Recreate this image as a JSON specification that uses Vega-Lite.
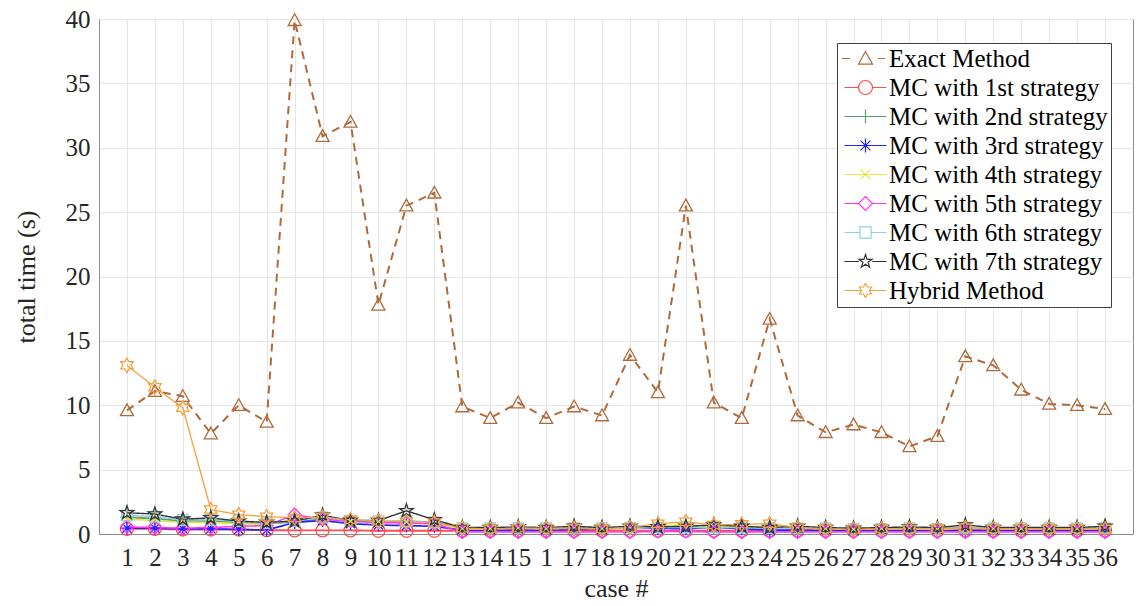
{
  "$schema": "https://vega.github.io/schema/vega-lite/v6.json",
  "width": 1034,
  "height": 515,
  "autosize": {"type": "none"},
  "padding": {"left": 99, "top": 19, "right": 9, "bottom": 72},
  "background": "white",
  "config": {
    "font": "Liberation Serif",
    "view": {"stroke": "#8c8c8c", "strokeWidth": 1},
    "axis": {
      "domainColor": "#8c8c8c",
      "gridColor": "#e6e6e6",
      "gridWidth": 1,
      "ticks": false,
      "labelFont": "Liberation Serif",
      "labelFontSize": 25,
      "labelColor": "#262626",
      "titleFont": "Liberation Serif",
      "titleFontSize": 26,
      "titleFontWeight": "normal",
      "titleColor": "#262626"
    }
  },
  "data": {"values": [
    {"s":"Exact Method","c":1,"t":9.6},{"s":"Exact Method","c":2,"t":11.1},{"s":"Exact Method","c":3,"t":10.7},{"s":"Exact Method","c":4,"t":7.8},{"s":"Exact Method","c":5,"t":10.0},{"s":"Exact Method","c":6,"t":8.7},{"s":"Exact Method","c":7,"t":39.9},{"s":"Exact Method","c":8,"t":30.9},{"s":"Exact Method","c":9,"t":32.0},{"s":"Exact Method","c":10,"t":17.8},{"s":"Exact Method","c":11,"t":25.5},{"s":"Exact Method","c":12,"t":26.5},{"s":"Exact Method","c":13,"t":9.9},{"s":"Exact Method","c":14,"t":9.0},{"s":"Exact Method","c":15,"t":10.2},{"s":"Exact Method","c":16,"t":9.0},{"s":"Exact Method","c":17,"t":9.9},{"s":"Exact Method","c":18,"t":9.2},{"s":"Exact Method","c":19,"t":13.9},{"s":"Exact Method","c":20,"t":11.0},{"s":"Exact Method","c":21,"t":25.5},{"s":"Exact Method","c":22,"t":10.2},{"s":"Exact Method","c":23,"t":9.0},{"s":"Exact Method","c":24,"t":16.7},{"s":"Exact Method","c":25,"t":9.2},{"s":"Exact Method","c":26,"t":7.9},{"s":"Exact Method","c":27,"t":8.5},{"s":"Exact Method","c":28,"t":7.9},{"s":"Exact Method","c":29,"t":6.8},{"s":"Exact Method","c":30,"t":7.6},{"s":"Exact Method","c":31,"t":13.8},{"s":"Exact Method","c":32,"t":13.1},{"s":"Exact Method","c":33,"t":11.2},{"s":"Exact Method","c":34,"t":10.1},{"s":"Exact Method","c":35,"t":10.0},{"s":"Exact Method","c":36,"t":9.7},

    {"s":"MC with 1st strategy","c":1,"t":0.4},{"s":"MC with 1st strategy","c":2,"t":0.4},{"s":"MC with 1st strategy","c":3,"t":0.35},{"s":"MC with 1st strategy","c":4,"t":0.35},{"s":"MC with 1st strategy","c":5,"t":0.35},{"s":"MC with 1st strategy","c":6,"t":0.3},{"s":"MC with 1st strategy","c":7,"t":0.28},{"s":"MC with 1st strategy","c":8,"t":0.28},{"s":"MC with 1st strategy","c":9,"t":0.28},{"s":"MC with 1st strategy","c":10,"t":0.25},{"s":"MC with 1st strategy","c":11,"t":0.25},{"s":"MC with 1st strategy","c":12,"t":0.25},{"s":"MC with 1st strategy","c":13,"t":0.25},{"s":"MC with 1st strategy","c":14,"t":0.25},{"s":"MC with 1st strategy","c":15,"t":0.25},{"s":"MC with 1st strategy","c":16,"t":0.25},{"s":"MC with 1st strategy","c":17,"t":0.25},{"s":"MC with 1st strategy","c":18,"t":0.25},{"s":"MC with 1st strategy","c":19,"t":0.25},{"s":"MC with 1st strategy","c":20,"t":0.25},{"s":"MC with 1st strategy","c":21,"t":0.25},{"s":"MC with 1st strategy","c":22,"t":0.25},{"s":"MC with 1st strategy","c":23,"t":0.25},{"s":"MC with 1st strategy","c":24,"t":0.25},{"s":"MC with 1st strategy","c":25,"t":0.25},{"s":"MC with 1st strategy","c":26,"t":0.25},{"s":"MC with 1st strategy","c":27,"t":0.25},{"s":"MC with 1st strategy","c":28,"t":0.25},{"s":"MC with 1st strategy","c":29,"t":0.25},{"s":"MC with 1st strategy","c":30,"t":0.25},{"s":"MC with 1st strategy","c":31,"t":0.25},{"s":"MC with 1st strategy","c":32,"t":0.25},{"s":"MC with 1st strategy","c":33,"t":0.25},{"s":"MC with 1st strategy","c":34,"t":0.25},{"s":"MC with 1st strategy","c":35,"t":0.25},{"s":"MC with 1st strategy","c":36,"t":0.25},

    {"s":"MC with 2nd strategy","c":1,"t":1.3},{"s":"MC with 2nd strategy","c":2,"t":1.2},{"s":"MC with 2nd strategy","c":3,"t":1.0},{"s":"MC with 2nd strategy","c":4,"t":1.0},{"s":"MC with 2nd strategy","c":5,"t":0.9},{"s":"MC with 2nd strategy","c":6,"t":0.8},{"s":"MC with 2nd strategy","c":7,"t":0.95},{"s":"MC with 2nd strategy","c":8,"t":1.2},{"s":"MC with 2nd strategy","c":9,"t":1.0},{"s":"MC with 2nd strategy","c":10,"t":0.95},{"s":"MC with 2nd strategy","c":11,"t":1.0},{"s":"MC with 2nd strategy","c":12,"t":0.9},{"s":"MC with 2nd strategy","c":13,"t":0.45},{"s":"MC with 2nd strategy","c":14,"t":0.45},{"s":"MC with 2nd strategy","c":15,"t":0.45},{"s":"MC with 2nd strategy","c":16,"t":0.45},{"s":"MC with 2nd strategy","c":17,"t":0.5},{"s":"MC with 2nd strategy","c":18,"t":0.45},{"s":"MC with 2nd strategy","c":19,"t":0.5},{"s":"MC with 2nd strategy","c":20,"t":0.5},{"s":"MC with 2nd strategy","c":21,"t":0.55},{"s":"MC with 2nd strategy","c":22,"t":0.5},{"s":"MC with 2nd strategy","c":23,"t":0.5},{"s":"MC with 2nd strategy","c":24,"t":0.45},{"s":"MC with 2nd strategy","c":25,"t":0.45},{"s":"MC with 2nd strategy","c":26,"t":0.4},{"s":"MC with 2nd strategy","c":27,"t":0.4},{"s":"MC with 2nd strategy","c":28,"t":0.4},{"s":"MC with 2nd strategy","c":29,"t":0.45},{"s":"MC with 2nd strategy","c":30,"t":0.4},{"s":"MC with 2nd strategy","c":31,"t":0.5},{"s":"MC with 2nd strategy","c":32,"t":0.4},{"s":"MC with 2nd strategy","c":33,"t":0.4},{"s":"MC with 2nd strategy","c":34,"t":0.4},{"s":"MC with 2nd strategy","c":35,"t":0.4},{"s":"MC with 2nd strategy","c":36,"t":0.45},

    {"s":"MC with 3rd strategy","c":1,"t":0.45},{"s":"MC with 3rd strategy","c":2,"t":0.45},{"s":"MC with 3rd strategy","c":3,"t":0.4},{"s":"MC with 3rd strategy","c":4,"t":0.4},{"s":"MC with 3rd strategy","c":5,"t":0.35},{"s":"MC with 3rd strategy","c":6,"t":0.3},{"s":"MC with 3rd strategy","c":7,"t":0.9},{"s":"MC with 3rd strategy","c":8,"t":1.05},{"s":"MC with 3rd strategy","c":9,"t":0.8},{"s":"MC with 3rd strategy","c":10,"t":0.7},{"s":"MC with 3rd strategy","c":11,"t":0.65},{"s":"MC with 3rd strategy","c":12,"t":0.6},{"s":"MC with 3rd strategy","c":13,"t":0.3},{"s":"MC with 3rd strategy","c":14,"t":0.3},{"s":"MC with 3rd strategy","c":15,"t":0.3},{"s":"MC with 3rd strategy","c":16,"t":0.3},{"s":"MC with 3rd strategy","c":17,"t":0.35},{"s":"MC with 3rd strategy","c":18,"t":0.35},{"s":"MC with 3rd strategy","c":19,"t":0.55},{"s":"MC with 3rd strategy","c":20,"t":0.45},{"s":"MC with 3rd strategy","c":21,"t":0.4},{"s":"MC with 3rd strategy","c":22,"t":0.55},{"s":"MC with 3rd strategy","c":23,"t":0.4},{"s":"MC with 3rd strategy","c":24,"t":0.3},{"s":"MC with 3rd strategy","c":25,"t":0.3},{"s":"MC with 3rd strategy","c":26,"t":0.3},{"s":"MC with 3rd strategy","c":27,"t":0.3},{"s":"MC with 3rd strategy","c":28,"t":0.3},{"s":"MC with 3rd strategy","c":29,"t":0.3},{"s":"MC with 3rd strategy","c":30,"t":0.3},{"s":"MC with 3rd strategy","c":31,"t":0.3},{"s":"MC with 3rd strategy","c":32,"t":0.3},{"s":"MC with 3rd strategy","c":33,"t":0.3},{"s":"MC with 3rd strategy","c":34,"t":0.3},{"s":"MC with 3rd strategy","c":35,"t":0.3},{"s":"MC with 3rd strategy","c":36,"t":0.3},

    {"s":"MC with 4th strategy","c":1,"t":1.15},{"s":"MC with 4th strategy","c":2,"t":1.05},{"s":"MC with 4th strategy","c":3,"t":0.9},{"s":"MC with 4th strategy","c":4,"t":0.9},{"s":"MC with 4th strategy","c":5,"t":0.8},{"s":"MC with 4th strategy","c":6,"t":0.75},{"s":"MC with 4th strategy","c":7,"t":1.1},{"s":"MC with 4th strategy","c":8,"t":1.25},{"s":"MC with 4th strategy","c":9,"t":1.0},{"s":"MC with 4th strategy","c":10,"t":0.95},{"s":"MC with 4th strategy","c":11,"t":0.95},{"s":"MC with 4th strategy","c":12,"t":0.85},{"s":"MC with 4th strategy","c":13,"t":0.4},{"s":"MC with 4th strategy","c":14,"t":0.4},{"s":"MC with 4th strategy","c":15,"t":0.45},{"s":"MC with 4th strategy","c":16,"t":0.4},{"s":"MC with 4th strategy","c":17,"t":0.45},{"s":"MC with 4th strategy","c":18,"t":0.4},{"s":"MC with 4th strategy","c":19,"t":0.45},{"s":"MC with 4th strategy","c":20,"t":0.6},{"s":"MC with 4th strategy","c":21,"t":0.7},{"s":"MC with 4th strategy","c":22,"t":0.55},{"s":"MC with 4th strategy","c":23,"t":0.6},{"s":"MC with 4th strategy","c":24,"t":0.55},{"s":"MC with 4th strategy","c":25,"t":0.45},{"s":"MC with 4th strategy","c":26,"t":0.4},{"s":"MC with 4th strategy","c":27,"t":0.35},{"s":"MC with 4th strategy","c":28,"t":0.4},{"s":"MC with 4th strategy","c":29,"t":0.4},{"s":"MC with 4th strategy","c":30,"t":0.35},{"s":"MC with 4th strategy","c":31,"t":0.45},{"s":"MC with 4th strategy","c":32,"t":0.4},{"s":"MC with 4th strategy","c":33,"t":0.4},{"s":"MC with 4th strategy","c":34,"t":0.4},{"s":"MC with 4th strategy","c":35,"t":0.4},{"s":"MC with 4th strategy","c":36,"t":0.4},

    {"s":"MC with 5th strategy","c":1,"t":0.55},{"s":"MC with 5th strategy","c":2,"t":0.5},{"s":"MC with 5th strategy","c":3,"t":0.45},{"s":"MC with 5th strategy","c":4,"t":0.5},{"s":"MC with 5th strategy","c":5,"t":0.6},{"s":"MC with 5th strategy","c":6,"t":0.65},{"s":"MC with 5th strategy","c":7,"t":1.5},{"s":"MC with 5th strategy","c":8,"t":1.15},{"s":"MC with 5th strategy","c":9,"t":1.0},{"s":"MC with 5th strategy","c":10,"t":0.9},{"s":"MC with 5th strategy","c":11,"t":0.85},{"s":"MC with 5th strategy","c":12,"t":0.8},{"s":"MC with 5th strategy","c":13,"t":0.15},{"s":"MC with 5th strategy","c":14,"t":0.15},{"s":"MC with 5th strategy","c":15,"t":0.15},{"s":"MC with 5th strategy","c":16,"t":0.15},{"s":"MC with 5th strategy","c":17,"t":0.15},{"s":"MC with 5th strategy","c":18,"t":0.15},{"s":"MC with 5th strategy","c":19,"t":0.15},{"s":"MC with 5th strategy","c":20,"t":0.2},{"s":"MC with 5th strategy","c":21,"t":0.2},{"s":"MC with 5th strategy","c":22,"t":0.15},{"s":"MC with 5th strategy","c":23,"t":0.15},{"s":"MC with 5th strategy","c":24,"t":0.15},{"s":"MC with 5th strategy","c":25,"t":0.15},{"s":"MC with 5th strategy","c":26,"t":0.15},{"s":"MC with 5th strategy","c":27,"t":0.15},{"s":"MC with 5th strategy","c":28,"t":0.15},{"s":"MC with 5th strategy","c":29,"t":0.15},{"s":"MC with 5th strategy","c":30,"t":0.15},{"s":"MC with 5th strategy","c":31,"t":0.15},{"s":"MC with 5th strategy","c":32,"t":0.15},{"s":"MC with 5th strategy","c":33,"t":0.15},{"s":"MC with 5th strategy","c":34,"t":0.15},{"s":"MC with 5th strategy","c":35,"t":0.15},{"s":"MC with 5th strategy","c":36,"t":0.15},

    {"s":"MC with 6th strategy","c":1,"t":1.45},{"s":"MC with 6th strategy","c":2,"t":1.35},{"s":"MC with 6th strategy","c":3,"t":1.1},{"s":"MC with 6th strategy","c":4,"t":1.1},{"s":"MC with 6th strategy","c":5,"t":1.0},{"s":"MC with 6th strategy","c":6,"t":0.85},{"s":"MC with 6th strategy","c":7,"t":1.0},{"s":"MC with 6th strategy","c":8,"t":1.3},{"s":"MC with 6th strategy","c":9,"t":1.05},{"s":"MC with 6th strategy","c":10,"t":1.0},{"s":"MC with 6th strategy","c":11,"t":1.0},{"s":"MC with 6th strategy","c":12,"t":0.9},{"s":"MC with 6th strategy","c":13,"t":0.45},{"s":"MC with 6th strategy","c":14,"t":0.45},{"s":"MC with 6th strategy","c":15,"t":0.45},{"s":"MC with 6th strategy","c":16,"t":0.45},{"s":"MC with 6th strategy","c":17,"t":0.45},{"s":"MC with 6th strategy","c":18,"t":0.45},{"s":"MC with 6th strategy","c":19,"t":0.5},{"s":"MC with 6th strategy","c":20,"t":0.5},{"s":"MC with 6th strategy","c":21,"t":0.5},{"s":"MC with 6th strategy","c":22,"t":0.5},{"s":"MC with 6th strategy","c":23,"t":0.5},{"s":"MC with 6th strategy","c":24,"t":0.45},{"s":"MC with 6th strategy","c":25,"t":0.45},{"s":"MC with 6th strategy","c":26,"t":0.45},{"s":"MC with 6th strategy","c":27,"t":0.4},{"s":"MC with 6th strategy","c":28,"t":0.4},{"s":"MC with 6th strategy","c":29,"t":0.45},{"s":"MC with 6th strategy","c":30,"t":0.4},{"s":"MC with 6th strategy","c":31,"t":0.5},{"s":"MC with 6th strategy","c":32,"t":0.45},{"s":"MC with 6th strategy","c":33,"t":0.45},{"s":"MC with 6th strategy","c":34,"t":0.45},{"s":"MC with 6th strategy","c":35,"t":0.45},{"s":"MC with 6th strategy","c":36,"t":0.45},

    {"s":"MC with 7th strategy","c":1,"t":1.65},{"s":"MC with 7th strategy","c":2,"t":1.55},{"s":"MC with 7th strategy","c":3,"t":1.15},{"s":"MC with 7th strategy","c":4,"t":1.25},{"s":"MC with 7th strategy","c":5,"t":1.0},{"s":"MC with 7th strategy","c":6,"t":0.9},{"s":"MC with 7th strategy","c":7,"t":1.0},{"s":"MC with 7th strategy","c":8,"t":1.45},{"s":"MC with 7th strategy","c":9,"t":1.05},{"s":"MC with 7th strategy","c":10,"t":1.05},{"s":"MC with 7th strategy","c":11,"t":1.8},{"s":"MC with 7th strategy","c":12,"t":1.1},{"s":"MC with 7th strategy","c":13,"t":0.5},{"s":"MC with 7th strategy","c":14,"t":0.5},{"s":"MC with 7th strategy","c":15,"t":0.55},{"s":"MC with 7th strategy","c":16,"t":0.5},{"s":"MC with 7th strategy","c":17,"t":0.6},{"s":"MC with 7th strategy","c":18,"t":0.5},{"s":"MC with 7th strategy","c":19,"t":0.6},{"s":"MC with 7th strategy","c":20,"t":0.55},{"s":"MC with 7th strategy","c":21,"t":0.6},{"s":"MC with 7th strategy","c":22,"t":0.7},{"s":"MC with 7th strategy","c":23,"t":0.6},{"s":"MC with 7th strategy","c":24,"t":0.5},{"s":"MC with 7th strategy","c":25,"t":0.6},{"s":"MC with 7th strategy","c":26,"t":0.5},{"s":"MC with 7th strategy","c":27,"t":0.45},{"s":"MC with 7th strategy","c":28,"t":0.5},{"s":"MC with 7th strategy","c":29,"t":0.55},{"s":"MC with 7th strategy","c":30,"t":0.5},{"s":"MC with 7th strategy","c":31,"t":0.7},{"s":"MC with 7th strategy","c":32,"t":0.5},{"s":"MC with 7th strategy","c":33,"t":0.5},{"s":"MC with 7th strategy","c":34,"t":0.5},{"s":"MC with 7th strategy","c":35,"t":0.5},{"s":"MC with 7th strategy","c":36,"t":0.6},

    {"s":"Hybrid Method","c":1,"t":13.1},{"s":"Hybrid Method","c":2,"t":11.4},{"s":"Hybrid Method","c":3,"t":9.8},{"s":"Hybrid Method","c":4,"t":1.9},{"s":"Hybrid Method","c":5,"t":1.5},{"s":"Hybrid Method","c":6,"t":1.35},{"s":"Hybrid Method","c":7,"t":1.25},{"s":"Hybrid Method","c":8,"t":1.3},{"s":"Hybrid Method","c":9,"t":1.1},{"s":"Hybrid Method","c":10,"t":1.0},{"s":"Hybrid Method","c":11,"t":0.95},{"s":"Hybrid Method","c":12,"t":0.9},{"s":"Hybrid Method","c":13,"t":0.45},{"s":"Hybrid Method","c":14,"t":0.4},{"s":"Hybrid Method","c":15,"t":0.45},{"s":"Hybrid Method","c":16,"t":0.45},{"s":"Hybrid Method","c":17,"t":0.45},{"s":"Hybrid Method","c":18,"t":0.4},{"s":"Hybrid Method","c":19,"t":0.5},{"s":"Hybrid Method","c":20,"t":0.8},{"s":"Hybrid Method","c":21,"t":0.95},{"s":"Hybrid Method","c":22,"t":0.7},{"s":"Hybrid Method","c":23,"t":0.75},{"s":"Hybrid Method","c":24,"t":0.8},{"s":"Hybrid Method","c":25,"t":0.5},{"s":"Hybrid Method","c":26,"t":0.4},{"s":"Hybrid Method","c":27,"t":0.35},{"s":"Hybrid Method","c":28,"t":0.4},{"s":"Hybrid Method","c":29,"t":0.4},{"s":"Hybrid Method","c":30,"t":0.4},{"s":"Hybrid Method","c":31,"t":0.5},{"s":"Hybrid Method","c":32,"t":0.4},{"s":"Hybrid Method","c":33,"t":0.4},{"s":"Hybrid Method","c":34,"t":0.4},{"s":"Hybrid Method","c":35,"t":0.4},{"s":"Hybrid Method","c":36,"t":0.4}
  ]},
  "encoding": {
    "x": {
      "field": "c", "type": "quantitative",
      "scale": {"domain": [0, 37], "nice": false, "zero": false},
      "axis": {
        "values": [1,2,3,4,5,6,7,8,9,10,11,12,13,14,15,16,17,18,19,20,21,22,23,24,25,26,27,28,29,30,31,32,33,34,35,36],
        "labelExpr": "datum.value == 16 ? '1' : datum.label",
        "labelOverlap": false,
        "labelFlush": false,
        "labelPadding": 11,
        "title": "case #",
        "titlePadding": 5
      }
    },
    "y": {
      "field": "t", "type": "quantitative",
      "scale": {"domain": [0, 40], "nice": false},
      "axis": {
        "values": [0,5,10,15,20,25,30,35,40],
        "labelPadding": 9,
        "title": "total time (s)",
        "titlePadding": 26
      }
    }
  },
  "layer": [
    {
      "mark": {"type": "line"},
      "encoding": {
        "color": {"field": "s", "type": "nominal", "legend": null,
          "scale": {"domain": ["Exact Method","MC with 1st strategy","MC with 2nd strategy","MC with 3rd strategy","MC with 4th strategy","MC with 5th strategy","MC with 6th strategy","MC with 7th strategy","Hybrid Method"],
                    "range": ["#B06A3A","#FF4D4D","#5E9C72","#2323FF","#E6E640","#FF33FF","#8FD0E6","#333333","#F5A03C"]}},
        "strokeDash": {"field": "s", "type": "nominal", "legend": null,
          "scale": {"domain": ["Exact Method","MC with 1st strategy","MC with 2nd strategy","MC with 3rd strategy","MC with 4th strategy","MC with 5th strategy","MC with 6th strategy","MC with 7th strategy","Hybrid Method"],
                    "range": [[8,6],[1,0],[1,0],[1,0],[1,0],[1,0],[1,0],[1,0],[1,0]]}},
        "strokeWidth": {"field": "s", "type": "nominal", "legend": null,
          "scale": {"domain": ["Exact Method","MC with 1st strategy","MC with 2nd strategy","MC with 3rd strategy","MC with 4th strategy","MC with 5th strategy","MC with 6th strategy","MC with 7th strategy","Hybrid Method"],
                    "range": [2,1.3,1.3,1.3,1.3,1.3,1.3,1.3,1.3]}}
      }
    },
    {
      "mark": {"type": "point", "filled": false, "size": 169, "strokeWidth": 1.3, "opacity": 1},
      "encoding": {
        "color": {"field": "s", "type": "nominal", "legend": null,
          "scale": {"domain": ["Exact Method","MC with 1st strategy","MC with 2nd strategy","MC with 3rd strategy","MC with 4th strategy","MC with 5th strategy","MC with 6th strategy","MC with 7th strategy","Hybrid Method"],
                    "range": ["#B06A3A","#FF4D4D","#5E9C72","#2323FF","#E6E640","#FF33FF","#8FD0E6","#333333","#F5A03C"]}},
        "shape": {"field": "s", "type": "nominal", "legend": null,
          "scale": {"domain": ["Exact Method","MC with 1st strategy","MC with 2nd strategy","MC with 3rd strategy","MC with 4th strategy","MC with 5th strategy","MC with 6th strategy","MC with 7th strategy","Hybrid Method"],
                    "range": [
                      "M0,-1L1,0.8L-1,0.8Z",
                      "M1,0A1,1 0 1,1 -1,0A1,1 0 1,1 1,0Z",
                      "M-1,0L1,0M0,-1L0,1",
                      "M-1,0L1,0M0,-1L0,1M-0.7,-0.7L0.7,0.7M-0.7,0.7L0.7,-0.7",
                      "M-0.7,-0.7L0.7,0.7M-0.7,0.7L0.7,-0.7",
                      "M0,-1L1,0L0,1L-1,0Z",
                      "M-0.8,-0.8L0.8,-0.8L0.8,0.8L-0.8,0.8Z",
                      "M0,-1.1L0.247,-0.34L1.046,-0.34L0.4,0.13L0.647,0.89L0,0.42L-0.647,0.89L-0.4,0.13L-1.046,-0.34L-0.247,-0.34Z",
                      "M0,-1.1L0.318,-0.55L0.953,-0.55L0.635,0L0.953,0.55L0.318,0.55L0,1.1L-0.318,0.55L-0.953,0.55L-0.635,0L-0.953,-0.55L-0.318,-0.55Z"
                    ]}}
      }
    },
    {
      "mark": {"type": "point", "filled": false, "opacity": 0},
      "encoding": {
        "color": {"field": "s", "type": "nominal",
          "scale": {"domain": ["Exact Method","MC with 1st strategy","MC with 2nd strategy","MC with 3rd strategy","MC with 4th strategy","MC with 5th strategy","MC with 6th strategy","MC with 7th strategy","Hybrid Method"],
                    "range": ["#B06A3A","#FF4D4D","#5E9C72","#2323FF","#E6E640","#FF33FF","#8FD0E6","#333333","#F5A03C"]},
          "legend": {"orient": "none", "legendX": 738, "legendY": 24, "title": null, "padding": 3, "rowPadding": 3, "symbolOffset": 13, "labelOffset": 11, "labelFontSize": 25, "labelFont": "Liberation Serif", "labelColor": "#000000", "labelLimit": 0, "strokeColor": "#404040", "fillColor": "#ffffff", "symbolSize": 196, "symbolStrokeWidth": 1.2, "symbolOpacity": 1}},
        "shape": {"field": "s", "type": "nominal",
          "scale": {"domain": ["Exact Method","MC with 1st strategy","MC with 2nd strategy","MC with 3rd strategy","MC with 4th strategy","MC with 5th strategy","MC with 6th strategy","MC with 7th strategy","Hybrid Method"],
                    "range": [
                      "M-3.4,0L-2.2,0M0,-1L1,0.8L-1,0.8ZM1.8,0L2.8,0",
                      "M-3,0L-1,0M1,0A1,1 0 1,1 -1,0A1,1 0 1,1 1,0M1,0L3,0",
                      "M-3,0L3,0M0,-1L0,1",
                      "M-3,0L3,0M0,-1L0,1M-0.7,-0.7L0.7,0.7M-0.7,0.7L0.7,-0.7",
                      "M-3,0L3,0M-0.7,-0.7L0.7,0.7M-0.7,0.7L0.7,-0.7",
                      "M-3,0L-1,0M0,-1L1,0L0,1L-1,0ZM1,0L3,0",
                      "M-3,0L-0.8,0M-0.8,-0.8L0.8,-0.8L0.8,0.8L-0.8,0.8ZM0.8,0L3,0",
                      "M-3,0L-0.95,0M0,-1L0.225,-0.309L0.951,-0.309L0.363,0.118L0.588,0.809L0,0.382L-0.588,0.809L-0.363,0.118L-0.951,-0.309L-0.225,-0.309ZM0.95,0L3,0",
                      "M-3,0L-0.58,0M0,-1L0.289,-0.5L0.866,-0.5L0.577,0L0.866,0.5L0.289,0.5L0,1L-0.289,0.5L-0.866,0.5L-0.577,0L-0.866,-0.5L-0.289,-0.5ZM0.58,0L3,0"
                    ]},
          "legend": {"orient": "none", "legendX": 738, "legendY": 24, "title": null, "padding": 3, "rowPadding": 3, "symbolOffset": 13, "labelOffset": 11, "labelFontSize": 25, "labelFont": "Liberation Serif", "labelColor": "#000000", "labelLimit": 0, "strokeColor": "#404040", "fillColor": "#ffffff", "symbolSize": 196, "symbolStrokeWidth": 1.2, "symbolOpacity": 1}}
      }
    }
  ],
  "resolve": {"scale": {"color": "independent", "shape": "independent"}, "legend": {"color": "independent", "shape": "independent"}}
}
